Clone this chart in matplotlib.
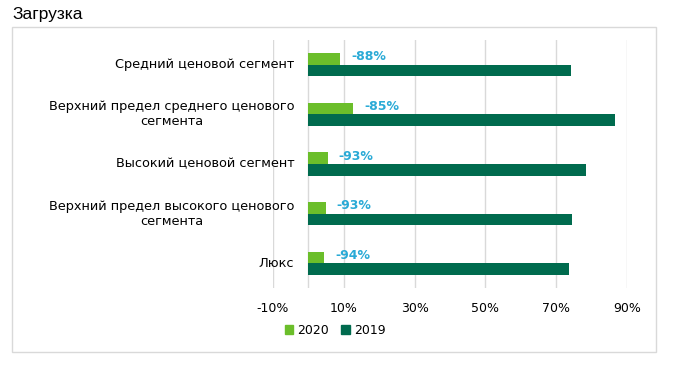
import matplotlib
matplotlib.use('Agg')
from matplotlib import pyplot as plt
from matplotlib.patches import Rectangle, Patch
from matplotlib import font_manager

categories = ['Средний ценовой сегмент',
              'Верхний предел среднего ценового\nсегмента',
              'Высокий ценовой сегмент',
              'Верхний предел высокого ценового\nсегмента',
              'Люкс']
share_2020 = [8.9, 12.6, 5.5, 4.9, 4.4]
share_2019 = [74.2, 86.6, 78.4, 74.5, 73.6]
changes = ['-88%', '-85%', '-93%', '-93%', '-94%']
xticks = [-10, 10, 30, 50, 70, 90]

c2020 = '#6BBE2A'
c2019 = '#006B4E'
cblue = '#2AAAD6'

names = {f.name for f in font_manager.fontManager.ttflist}
title_font = 'Liberation Sans Narrow' if 'Liberation Sans Narrow' in names else 'Liberation Sans'

fig = plt.figure(figsize=(6.84, 3.79), dpi=100)
ax = fig.add_axes([273 / 684, 1 - 288 / 379, (627 - 273) / 684, (288 - 40) / 379])

ys = list(range(len(categories)))
h = 0.235
ax.barh([y - h / 2 for y in ys], share_2020, height=h, color=c2020, label='2020', zorder=3)
ax.barh([y + h / 2 for y in ys], share_2019, height=h, color=c2019, label='2019', zorder=3)

# подписи изменения 2020 к 2019
for y, v, txt in zip(ys, share_2020, changes):
    ax.annotate(txt, xy=(v, y - h / 2), xytext=(11, 2), textcoords='offset pixels',
                ha='left', va='center', color=cblue, fontsize=9, fontweight='bold', zorder=4)

# названия категорий у оси 0
for y, lab in zip(ys, categories):
    ax.annotate(lab, xy=(0, y), xytext=(-14, 0), textcoords='offset pixels',
                ha='right', va='center', ma='center', fontsize=9.3, color='#000000',
                annotation_clip=False)

ax.set_xlim(-10, 90)
ax.set_ylim(len(categories) - 0.5, -0.5)
ax.set_yticks([])
ax.set_xticks(xticks)
ax.set_xticklabels([f'{t}%' for t in xticks], fontsize=9)
ax.tick_params(axis='x', length=0, pad=10)
for t in xticks + [0]:
    ax.axvline(t, color='#D9D9D9', lw=1, zorder=1)
for s in ax.spines.values():
    s.set_visible(False)

handles = [Patch(color=c2020, label='2020'), Patch(color=c2019, label='2019')]
fig.legend(handles=handles, loc='center', bbox_to_anchor=(335 / 684, 1 - 330 / 379),
           ncol=2, frameon=False, fontsize=9, handlelength=0.7, handleheight=0.7,
           handletextpad=0.3, columnspacing=1.0)

fig.patches.append(Rectangle((12 / 684, 1 - 352 / 379), (656 - 12) / 684, (352 - 27) / 379,
                             transform=fig.transFigure, fill=False, edgecolor='#D9D9D9', lw=1))
fig.text(12 / 684, 1 - 15 / 379, 'Загрузка', fontsize=12.5, family=title_font,
         ha='left', va='center')

fig.savefig('out.png', dpi=100)
